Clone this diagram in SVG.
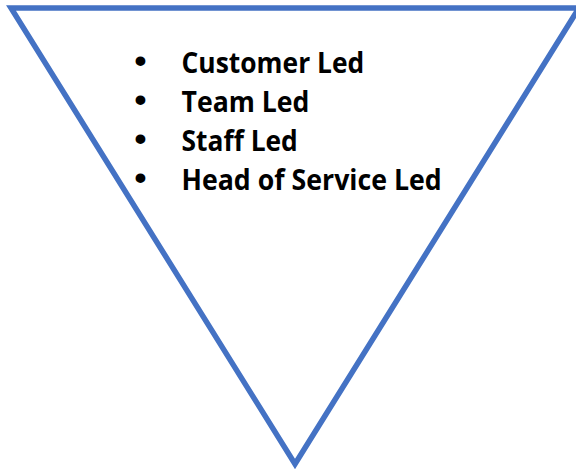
<svg xmlns="http://www.w3.org/2000/svg" width="576" height="470" viewBox="0 0 576 470">
  <style>
    .tri { fill: #FFFFFF; stroke: #4472C4; stroke-width: 5.5; stroke-linejoin: miter; }
    .item { font-family: "Open Sans", "Noto Sans", "Liberation Sans", sans-serif; font-weight: 700; font-size: 28.7px; fill: #000000; }
    .bullet { font-family: "Liberation Sans", Arial, sans-serif; font-weight: 700; font-size: 34px; fill: #000000; text-anchor: middle; }
  </style>
  <rect width="576" height="470" fill="#FFFFFF"/>
  <g id="triangle">
    <polygon class="tri" points="11,8 579,8 295,464"/>
  </g>
  <g id="list">
    <text class="bullet" x="140.5" y="72">•</text>
    <text class="item" x="181.5" y="72.5" textLength="182.7" lengthAdjust="spacingAndGlyphs">Customer Led</text>
    <text class="bullet" x="140.5" y="111">•</text>
    <text class="item" x="181.5" y="111.5" textLength="127.9" lengthAdjust="spacingAndGlyphs">Team Led</text>
    <text class="bullet" x="140.5" y="150">•</text>
    <text class="item" x="181.5" y="150.5" textLength="116.3" lengthAdjust="spacingAndGlyphs">Staff Led</text>
    <text class="bullet" x="140.5" y="189">•</text>
    <text class="item" x="181.5" y="189.5" textLength="260.2" lengthAdjust="spacingAndGlyphs">Head of Service Led</text>
  </g>
</svg>
